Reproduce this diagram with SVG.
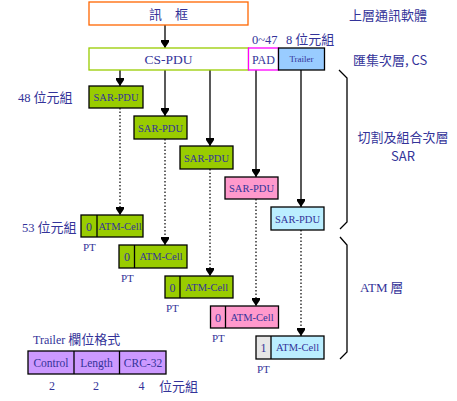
<svg xmlns="http://www.w3.org/2000/svg" width="457" height="401" viewBox="0 0 457 401">
<style>
text{font-family:"Liberation Serif","Noto Sans CJK TC",serif;fill:#333399;}
.cjk{font-family:"Noto Sans CJK TC","Liberation Sans",sans-serif;font-size:13px;}
.box{stroke:#000;stroke-width:1.3;}
.g{fill:#99CC00;}
.p{fill:#FF99CC;}
.b{fill:#BBEEFF;}
.sar{font-size:10.5px;text-anchor:middle;}
.cell{font-size:10.5px;text-anchor:middle;}
.pt{font-size:12px;text-anchor:middle;}
.pts{font-size:11px;}
.solid{stroke:#000;stroke-width:1.3;fill:none;}
.dot{stroke:#000;stroke-width:1.2;fill:none;stroke-dasharray:1.5 2;}
</style>
<defs>
<marker id="ah" markerUnits="userSpaceOnUse" markerWidth="8" markerHeight="8" viewBox="0 0 8 8" refX="8" refY="4" orient="auto">
<path d="M0,0 L2,0 L8,4 L2,8 L0,8 Z" fill="#000"/>
</marker>
</defs>
<rect width="457" height="401" fill="#fff"/>

<g id="connectors">
<line class="solid" x1="165" y1="25" x2="165" y2="48" marker-end="url(#ah)"/>
<line class="solid" x1="120" y1="70" x2="120" y2="86" marker-end="url(#ah)"/>
<line class="solid" x1="165" y1="70" x2="165" y2="116" marker-end="url(#ah)"/>
<line class="solid" x1="210" y1="70" x2="210" y2="146" marker-end="url(#ah)"/>
<line class="solid" x1="256" y1="70" x2="256" y2="177" marker-end="url(#ah)"/>
<line class="solid" x1="301" y1="70" x2="301" y2="207" marker-end="url(#ah)"/>
<line class="dot" x1="120" y1="108" x2="120" y2="215" marker-end="url(#ah)"/>
<line class="dot" x1="165" y1="139" x2="165" y2="245" marker-end="url(#ah)"/>
<line class="dot" x1="210" y1="169" x2="210" y2="276" marker-end="url(#ah)"/>
<line class="dot" x1="256" y1="199" x2="256" y2="306" marker-end="url(#ah)"/>
<line class="dot" x1="301" y1="230" x2="301" y2="336" marker-end="url(#ah)"/>
<path class="solid" d="M339,70 L347,78 L347,222 L340,229"/>
<path class="solid" d="M340,237 L347,245 L347,352 L340,359"/>
</g>

<g id="frame">
<rect x="89" y="2" width="159" height="23" fill="#fff" stroke="#FF6600" stroke-width="1.3"/>
<text class="cjk" x="168.5" y="18.5" text-anchor="middle" font-size="14px">訊　框</text>
</g>

<g id="cspdu">
<rect x="89" y="48" width="159.5" height="22" fill="#fff" stroke="#99CC00" stroke-width="1.3"/>
<text x="168.5" y="64" font-size="13.5px" text-anchor="middle">CS-PDU</text>
</g>
<g id="pad">
<rect x="248.5" y="48" width="30" height="22" fill="#fff" stroke="#FF00FF" stroke-width="1.3"/>
<text x="263.5" y="64" font-size="12px" text-anchor="middle">PAD</text>
</g>
<g id="trailer">
<rect class="box" x="278.5" y="48" width="46" height="22" fill="#99CCFF"/>
<text x="301.5" y="62" font-size="9px" text-anchor="middle">Trailer</text>
</g>

<g id="sar1"><rect class="box g" x="89" y="86" width="54" height="22"/><text class="sar" x="116" y="101">SAR-PDU</text></g>
<g id="sar2"><rect class="box g" x="134" y="116" width="53" height="23"/><text class="sar" x="160.5" y="131.5">SAR-PDU</text></g>
<g id="sar3"><rect class="box g" x="180" y="146" width="53" height="23"/><text class="sar" x="206.5" y="161.5">SAR-PDU</text></g>
<g id="sar4"><rect class="box p" x="225" y="177" width="53" height="22"/><text class="sar" x="251.5" y="192">SAR-PDU</text></g>
<g id="sar5"><rect class="box b" x="271" y="207" width="53" height="23"/><text class="sar" x="297.5" y="222.5">SAR-PDU</text></g>

<g id="cell1">
<rect class="box g" x="81" y="215" width="62" height="22"/>
<line class="box" x1="97" y1="215" x2="97" y2="237"/>
<text class="pt" x="89" y="231">0</text><text class="cell" x="120" y="230">ATM-Cell</text>
<text class="pts" x="83" y="251">PT</text>
</g>
<g id="cell2">
<rect class="box g" x="119" y="245" width="68" height="23"/>
<line class="box" x1="134.5" y1="245" x2="134.5" y2="268"/>
<text class="pt" x="127" y="261">0</text><text class="cell" x="161" y="260">ATM-Cell</text>
<text class="pts" x="121" y="282">PT</text>
</g>
<g id="cell3">
<rect class="box g" x="165" y="276" width="68" height="22"/>
<line class="box" x1="180" y1="276" x2="180" y2="298"/>
<text class="pt" x="172.5" y="292">0</text><text class="cell" x="206.5" y="291">ATM-Cell</text>
<text class="pts" x="166" y="312">PT</text>
</g>
<g id="cell4">
<rect class="box p" x="210.5" y="306" width="68" height="22"/>
<line class="box" x1="225.5" y1="306" x2="225.5" y2="328"/>
<text class="pt" x="218" y="322">0</text><text class="cell" x="252" y="321">ATM-Cell</text>
<text class="pts" x="212" y="342">PT</text>
</g>
<g id="cell5">
<rect x="256" y="336" width="68" height="23" fill="#BBEEFF"/>
<rect x="256" y="336" width="15" height="23" fill="#E6E6E6"/>
<rect x="256" y="336" width="68" height="23" fill="none" stroke="#000" stroke-width="1.3"/>
<line class="box" x1="271" y1="336" x2="271" y2="359"/>
<text class="pt" x="263.5" y="352">1</text><text class="cell" x="297.5" y="351">ATM-Cell</text>
<text class="pts" x="257" y="373">PT</text>
</g>

<g id="trailer-format">
<rect class="box" x="28" y="351" width="138" height="23" fill="#CC99FF"/>
<line class="box" x1="74" y1="351" x2="74" y2="374"/>
<line class="box" x1="119.5" y1="351" x2="119.5" y2="374"/>
<text x="51" y="366.5" font-size="11.5px" text-anchor="middle">Control</text>
<text x="96.5" y="366.5" font-size="11.5px" text-anchor="middle">Length</text>
<text x="143" y="366.5" font-size="11.5px" text-anchor="middle">CRC-32</text>
<text x="52" y="390" font-size="12px" text-anchor="middle">2</text>
<text x="96" y="390" font-size="12px" text-anchor="middle">2</text>
<text x="141.5" y="390" font-size="12px" text-anchor="middle">4</text>
<text class="cjk" x="159" y="391">位元組</text>
<text class="cjk" x="33" y="344"><tspan font-family="Liberation Serif" font-size="12px">Trailer</tspan> 欄位格式</text>
</g>

<g id="labels">
<text class="cjk" x="349" y="20">上層通訊軟體</text>
<text class="cjk" x="252" y="44"><tspan font-family="Liberation Serif" font-size="12.5px">0~47</tspan><tspan x="286" font-family="Liberation Serif" font-size="12.5px">8</tspan> 位元組</text>
<text class="cjk" x="353" y="65">匯集次層, CS</text>
<text class="cjk" x="18" y="102"><tspan font-family="Liberation Serif" font-size="12.5px">48</tspan> 位元組</text>
<text class="cjk" x="22" y="232" font-size="12.5px"><tspan font-family="Liberation Serif" font-size="12.5px">53</tspan> 位元組</text>
<text class="cjk" x="403" y="142" text-anchor="middle" font-size="13.5px">切割及組合次層</text>
<text class="cjk" x="403" y="161" text-anchor="middle" font-size="13.5px">SAR</text>
<text class="cjk" x="360" y="292"><tspan font-family="Liberation Serif" font-size="13px">ATM</tspan> 層</text>
</g>
</svg>
